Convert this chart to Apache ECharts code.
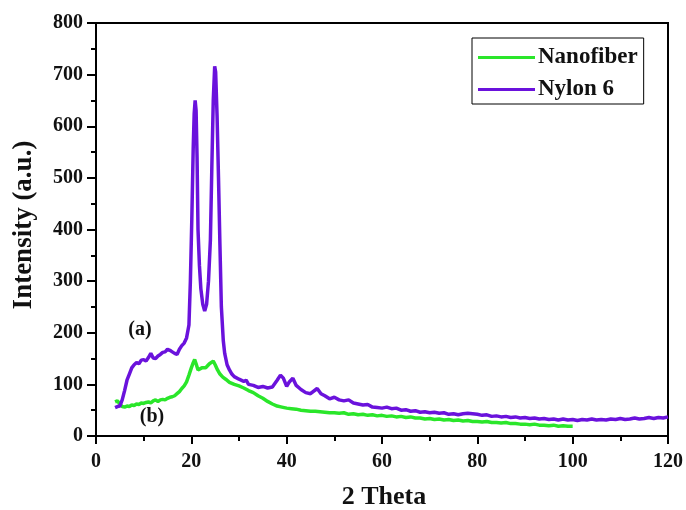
<!DOCTYPE html>
<html>
<head>
<meta charset="utf-8">
<script src="https://cdn.jsdelivr.net/npm/echarts@6/dist/echarts.min.js"></script>
<style>html,body{margin:0;padding:0;background:#fff;}#c{width:686px;height:510px;}</style>
</head>
<body>
<div id="c"></div>
<script>
var seriesNames = ['Nanofiber', 'Nylon 6'];
var xTicks = [0, 20, 40, 60, 80, 100, 120];
var yTicks = [0, 100, 200, 300, 400, 500, 600, 700, 800];

var nylonX = [4.0,4.5,5.0,5.5,6.0,6.5,7.0,7.5,8.0,8.5,9.0,9.5,10.0,10.5,11.0,11.5,12.0,12.5,13.0,13.5,14.0,14.5,15.0,15.5,16.0,16.5,17.0,17.5,18.0,18.5,19.0,19.5,19.8,20.1,20.4,20.6,20.8,21.0,21.2,21.4,21.7,22.0,22.4,22.8,23.2,23.6,24.0,24.3,24.6,24.9,25.1,25.4,25.7,26.0,26.3,26.7,27.0,27.5,28.0,28.5,29.0,30.0,31.0,31.5,32.0,33.0,34.0,35.0,36.0,37.0,38.0,38.7,39.3,40.0,40.5,41.3,42.0,43.0,44.0,45.0,46.4,47.2,48.0,49.0,50.0,51,52,53,54,55,56,57,58,59,60,61,62,63,64,65,66,67,68,69,70,71,72,73,74,75,76,77,78,79,80,81,82,83,84,85,86,87,88,89,90,91,92,93,94,95,96,97,98,99,100,101,102,103,104,105,106,107,108,109,110,111,112,113,114,115,116,117,118,119,120];
var nylonY = [55,57,58,70,88,108,120,132,138,142,140,147,148,145,152,160,151,150,155,158,162,163,168,166,163,160,158,168,175,180,190,215,300,420,560,625,650,630,540,400,330,285,255,242,255,300,380,520,650,716,705,620,500,370,250,185,160,138,128,120,115,110,106,108,100,98,94,96,93,95,108,118,112,96,104,112,98,90,84,82,92,82,78,72,75,70,68,70,64,62,60,61,56,55,54,56,53,54,50,51,48,49,46,47,45,46,44,45,42,43,41,43,44,43,42,40,41,38,39,37,38,36,37,35,36,34,35,33,34,32,33,31,33,31,32,30,32,31,33,31,32,31,33,32,34,32,33,35,33,34,36,34,36,35,37];

var nanoX = [4.0,4.5,5.0,5.5,6.0,6.5,7.0,7.5,8.0,8.5,9.0,9.5,10.0,10.5,11.0,11.5,12.0,12.5,13.0,13.5,14.0,14.5,15.0,15.5,16.0,16.5,17.0,17.5,18.0,18.5,19.0,19.5,20.0,20.4,20.7,21.0,21.4,21.8,22.2,22.6,23.0,23.4,23.8,24.2,24.6,25.0,25.5,26.0,26.6,27.2,28.0,29.0,30.0,31.0,32.0,33.0,34.0,35.0,36.0,37.0,38.0,39.0,40.0,41.0,42.0,43.0,44.0,45.0,46.0,47.0,48.0,49.0,50,51,52,53,54,55,56,57,58,59,60,61,62,63,64,65,66,67,68,69,70,71,72,73,74,75,76,77,78,79,80,81,82,83,84,85,86,87,88,89,90,91,92,93,94,95,96,97,98,99,100];
var nanoY = [66,68,62,57,56,58,57,60,59,62,61,64,63,65,66,64,68,70,67,70,71,70,73,75,76,78,82,86,92,97,105,118,132,142,148,140,128,126,132,134,132,136,140,142,145,138,128,120,114,110,104,100,97,93,88,84,78,73,67,62,58,56,54,53,52,50,49,48,48,47,46,45,45,44,45,42,43,41,42,40,41,39,40,38,39,37,38,36,37,35,35,33,34,32,33,31,32,30,31,29,30,28,28,27,28,26,26,25,26,24,24,23,23,22,23,21,21,20,21,19,20,19,19];

function zip(xs, ys) { return xs.map(function (x, i) { return [x, ys[i]]; }); }

var FONT = "'Liberation Serif', 'DejaVu Serif', serif";
var chart = echarts.init(document.getElementById('c'));
chart.setOption({
  animation: false,
  backgroundColor: '#fff',
  grid: { left: 96, right: 15, top: 23, bottom: 74, show: true, borderColor: '#000', borderWidth: 2, backgroundColor: 'transparent' },
  legend: {
    data: seriesNames,
    orient: 'vertical',
    left: 472, top: 38,
    padding: [8, 6, 3, 6],
    itemGap: 9,
    itemWidth: 57, itemHeight: 3,
    icon: 'rect',
    borderColor: '#000', borderWidth: 1,
    textStyle: { fontFamily: FONT, fontWeight: 'bold', fontSize: 23, color: '#111', lineHeight: 22, padding: [0, 0, 0, -2] }
  },
  xAxis: {
    type: 'value', min: xTicks[0], max: xTicks[xTicks.length - 1], interval: 20,
    axisLine: { lineStyle: { color: '#000', width: 2 } },
    axisTick: { inside: false, length: 8, lineStyle: { color: '#000', width: 2 } },
    minorTick: { show: true, splitNumber: 2, length: 5, lineStyle: { color: '#000', width: 2 } },
    splitLine: { show: false },
    axisLabel: { fontFamily: FONT, fontWeight: 'bold', fontSize: 20, color: '#111', margin: 16 }
  },
  yAxis: {
    type: 'value', min: yTicks[0], max: yTicks[yTicks.length - 1], interval: 100,
    axisLine: { show: true, lineStyle: { color: '#000', width: 2 } },
    axisTick: { show: true, inside: false, length: 9, lineStyle: { color: '#000', width: 2 } },
    minorTick: { show: true, splitNumber: 2, length: 5, lineStyle: { color: '#000', width: 2 } },
    splitLine: { show: false },
    axisLabel: { fontFamily: FONT, fontWeight: 'bold', fontSize: 20, color: '#111', margin: 13 }
  },
  series: [
    { name: seriesNames[0], type: 'line', data: zip(nanoX, nanoY), showSymbol: false, symbol: 'none',
      lineStyle: { color: '#2ae62a', width: 3.5 }, itemStyle: { color: '#2ae62a' }, z: 2 },
    { name: seriesNames[1], type: 'line', data: zip(nylonX, nylonY), showSymbol: false, symbol: 'none',
      lineStyle: { color: '#6a12dc', width: 3.5 }, itemStyle: { color: '#6a12dc' }, z: 3 }
  ],
  graphic: [
    { type: 'text', x: 24, y: 225, rotation: Math.PI / 2,
      style: { text: 'Intensity (a.u.)', font: 'bold 27px ' + FONT, fill: '#111', align: 'center', verticalAlign: 'middle' } },
    { type: 'text', x: 384, y: 497,
      style: { text: '2 Theta', font: 'bold 26px ' + FONT, fill: '#111', align: 'center', verticalAlign: 'middle' } },
    { type: 'text', x: 140, y: 330,
      style: { text: '(a)', font: 'bold 20px ' + FONT, fill: '#111', align: 'center', verticalAlign: 'middle' } },
    { type: 'text', x: 152, y: 417,
      style: { text: '(b)', font: 'bold 20px ' + FONT, fill: '#111', align: 'center', verticalAlign: 'middle' } }
  ]
});
</script>
</body>
</html>
